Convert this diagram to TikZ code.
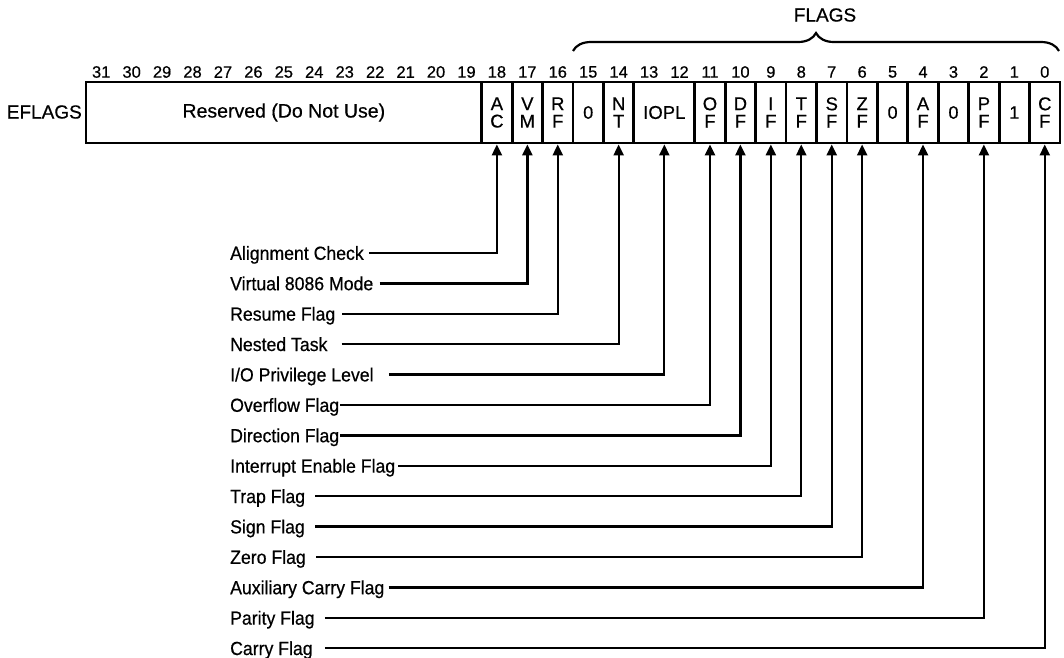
\documentclass[tikz,border=0pt]{standalone}
\usepackage{fontspec}
\setmainfont{Liberation Sans}[FakeBold=0.5]
\newfontfamily\lblfont{Liberation Sans}[FakeStretch=0.93, FakeBold=0.5]
\usetikzlibrary{arrows.meta,decorations.pathreplacing}
\begin{document}
\begin{tikzpicture}[x=1pt,y=-1pt,
  cell/.style={draw, line width=2.8pt, minimum height=61pt, inner sep=0pt, align=center,
    font=\fontsize{18}{18}\selectfont},
  stack/.style={font=\fontsize{18.5}{17.5}\selectfont},
  bitnum/.style={font=\fontsize{16.5}{16.5}\selectfont, inner sep=0pt},
  lbl/.style={anchor=west, inner sep=0pt, font=\lblfont\fontsize{19}{19}\selectfont, text height=13.6pt, text depth=0pt},
  big/.style={font=\fontsize{19}{19}\selectfont, inner sep=0pt},
  conn/.style={line width=2.3pt, -{Triangle[width=10pt,length=11pt]}},
]
\fill[white] (0,0) rectangle (1064,657);
\useasboundingbox (0,0) rectangle (1064,657);

% bit numbers
\foreach \b in {0,...,31}
  \node[bitnum] (n\b) at ({101.21875+(31-\b)*30.4375},72) {\b};

% register cells
\node[big, anchor=east] (eflags) at (82,112) {EFLAGS};
\node[cell, minimum width=395.6875pt, font=\fontsize{19.5}{19.5}\selectfont] (res) at (283.84,112.5) {Reserved (Do Not Use)};
\foreach \b/\t in {18/{A\\C},17/{V\\M},16/{R\\F},14/{N\\T},11/{O\\F},10/{D\\F},9/{I\\F},8/{T\\F},7/{S\\F},6/{Z\\F},4/{A\\F},2/{P\\F},0/{C\\F}}
  \node[cell, stack, minimum width=30.4375pt] (c\b) at ({101.21875+(31-\b)*30.4375},112.5) {\t};
\foreach \b/\t in {15/0,5/0,3/0,1/1}
  \node[cell, minimum width=30.4375pt] (c\b) at ({101.21875+(31-\b)*30.4375},112.5) {\t};
\node[cell, minimum width=60.875pt, font=\fontsize{18.5}{18.5}\selectfont] (c13) at (664.3125,112.5) {IOPL};

% brace
\node[big] (flags) at (825,15) {FLAGS};
\draw[line width=2.2pt, decorate, decoration={brace, amplitude=18pt}] (573,51) -- (1059,51);

% labels and connectors
\foreach \k/\nm/\txt/\gap/\cl in {
  0/AC/Alignment Check/5/c18,
  1/VM/Virtual 8086 Mode/6/c17,
  2/RF/Resume Flag/7/c16,
  3/NT/Nested Task/14/c14,
  4/IOPL/I\slash O Privilege Level/15/c13,
  5/OF/Overflow Flag/1/c11,
  6/DF/Direction Flag/1/c10,
  7/IF/Interrupt Enable Flag/3/c9,
  8/TF/Trap Flag/10/c8,
  9/SF/Sign Flag/10/c7,
  10/ZF/Zero Flag/10/c6,
  11/AF/Auxiliary Carry Flag/4/c4,
  12/PF/Parity Flag/10/c2,
  13/CF/Carry Flag/12/c0}
{
  \node[lbl] (l\nm) at (230,{253+30.4*\k}) {\txt};
  \draw[conn] ([xshift=\gap pt]l\nm.east) -| (\cl.south);
}
\end{tikzpicture}
\end{document}
